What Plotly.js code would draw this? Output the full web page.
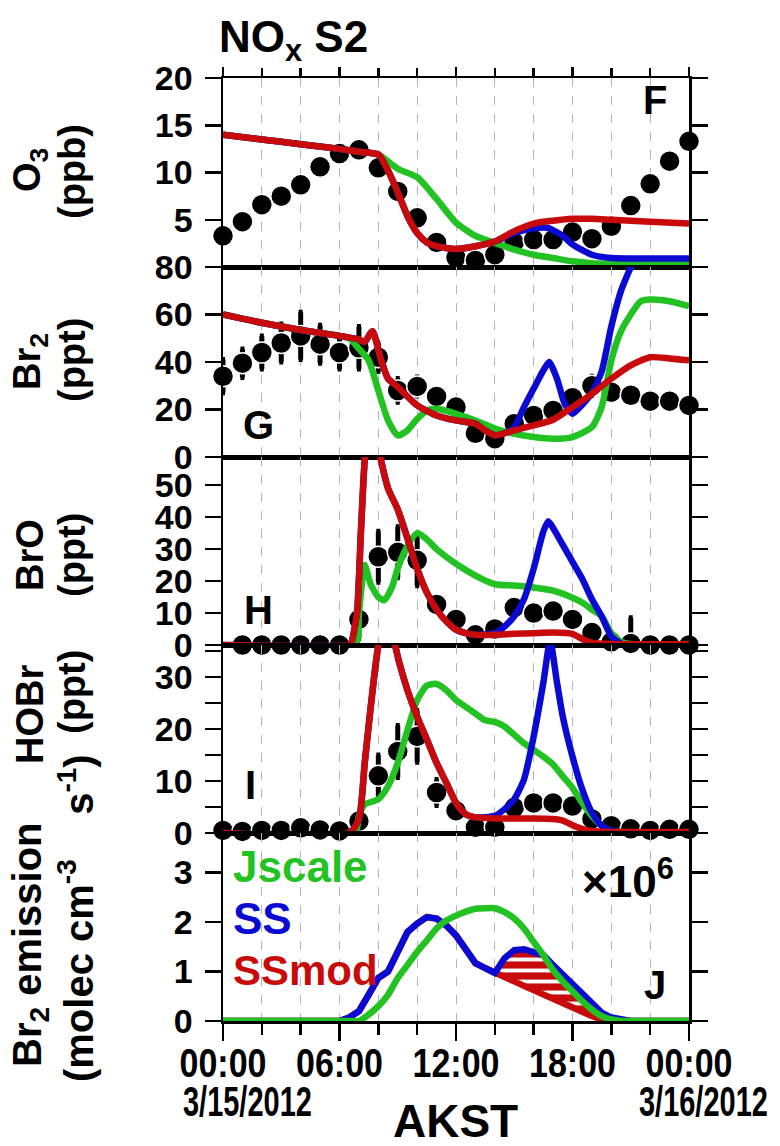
<!DOCTYPE html>
<html>
<head>
<meta charset="utf-8">
<script src="https://cdn.plot.ly/plotly-3.0.1.min.js"></script>
<style>html,body{margin:0;padding:0;background:#fff;}#chart{width:780px;height:1146px;}</style>
</head>
<body>
<div id="chart"></div>
<script>
// ---------- data ----------
const obsHours = [0,1,2,3,4,5,6,7,8,9,10,11,12,13,14,15,16,17,18,19,20,21,22,23,24];
const xTickVals = [0,6,12,18,24];
const xTickText = ["00:00","06:00","12:00","18:00","00:00"];

// Panel F: O3 (ppb)
const o3Obs = [3.3,4.8,6.6,7.5,8.7,10.6,12.0,12.4,10.5,8.0,5.2,2.6,1.0,0.7,1.3,2.6,2.9,2.9,3.7,3.0,4.3,6.5,8.8,11.2,13.3];
const o3JscaleT = [0,2,4,6,7,8,9,10,11,12,13,14,15,16,17,18,19,20,22,24];
const o3Jscale  = [14.0,13.5,13.0,12.5,12.2,11.9,10.4,9.5,7.2,4.7,3.3,2.55,1.85,1.3,0.95,0.6,0.4,0.35,0.35,0.35];
const o3SST = [0,2,4,6,7,8,8.5,9,9.5,10,10.5,11,12,13,14,15,16,16.7,17.5,18,19,20,22,24];
const o3SS  = [14.0,13.5,13.0,12.5,12.2,11.9,10.2,7.9,5.4,3.6,2.6,2.2,1.9,2.2,2.7,3.6,4.1,4.15,3.3,2.4,1.3,0.95,0.9,0.9];
const o3SSmodT = [0,2,4,6,7,8,8.5,9,9.5,10,10.5,11,12,13,14,15,16,17,18,19,20,22,24];
const o3SSmod  = [14.0,13.5,13.0,12.5,12.2,11.9,10.2,7.9,5.4,3.6,2.6,2.2,1.9,2.2,2.7,3.8,4.6,4.9,5.1,5.1,5.0,4.8,4.6];

// Panel G: Br2 (ppt)
const br2Obs = [34,39.5,44,48,51,47.5,44,46,42,28,29.7,25.5,21,10,7.7,14,17.5,19.6,25,30,27.3,26,23.5,23.5,21.7];
const br2Err = [7,6,7,8,10,8,7,9,6,5,4,3,3,2,2,2,2,2,3,4,3,2,2,2,2];
const br2JscaleT = [0,2,4,6,6.5,7,7.5,8,8.5,9,9.5,10,10.5,11,12,13,14,15,16,17,18,19,19.5,20,20.5,21,21.5,22,23,24];
const br2Jscale  = [60,56.5,53.5,51,50,45.6,40.7,28,15.4,9.1,11.2,16,19.6,20.3,18.2,15.4,12,9.8,8.4,7.7,8.4,12.6,21,40.7,53,60,65.5,66.3,65.6,63.5];
const br2SST = [0,2,4,6,7,7.3,7.7,8.1,8.5,9,10,11,12,13,13.5,14,14.5,15,15.5,16,16.5,16.8,17.2,17.6,18,18.5,19,19.5,20,20.5,21,21.5,22,24];
const br2SS  = [60,56.5,53.5,51,49.5,48.5,53,42,33,29.5,21.7,17.5,15.4,14,11.2,9.1,10,12.6,21,28.8,36.5,40,33,22.4,18.2,22,27,36,55,70,80,90,95,95];
const br2SSmodT = [0,2,4,6,7,7.3,7.7,8.1,8.5,9,10,11,12,13,13.5,14,15,16,17,18,19,20,21,22,23,24];
const br2SSmod  = [60,56.5,53.5,51,49.5,48.5,53,42,33,29.5,21.7,17.5,15.4,14,11.2,9.1,11.2,13.3,15.7,21,26.6,33,38.6,42,41.5,40.7];

// Panel H: BrO (ppt)
const broObs = [null,0,0,0,0,0,0,8,27.6,29,26.5,12.7,8,3.2,5,11.7,10,10.6,8,3.9,1,0.5,0,0,0];
const broErr = [0,0,0,0,0,0,0,6,8,8,8,2,2,1,1,2,2,1,1,1,1,8,0,0,0];
const broJscaleT = [0,6.8,7,7.3,7.6,8,8.3,8.7,9,9.5,10,10.5,11,12,13,14,15,16,17,18,18.5,19,19.5,20,20.5,21,24];
const broJscale  = [0,0,10,25,19,15,14,18,24,31,35,33,30,25.4,21.7,19,18.6,18,17,14.8,13.3,11.1,9,3.7,1,0.3,0.3];
const broSST = [0,6.5,6.6,6.9,7.1,7.3,7.6,7.9,8.1,8.5,9,9.5,10,10.5,11,11.5,12,12.5,13,14,14.5,15,15.5,16,16.5,16.75,17,17.5,18,18.5,19,19.5,20,20.5,21,24];
const broSS  = [0,0,0.5,10,35,58,75,70,59,49,42.4,33.4,23.9,16.4,11.1,7.4,4.8,3.7,3.2,3.7,5.8,9,14.3,23.9,35.5,38.7,36.6,31.3,26,20.7,14.3,9,2.7,0.5,0,0];
const broSSmodT = [0,6.5,6.6,6.9,7.1,7.3,7.6,7.9,8.1,8.5,9,9.5,10,10.5,11,11.5,12,12.5,13,14,15,16,17,18,18.5,19,20,24];
const broSSmod  = [0,0,0.5,10,35,58,75,70,59,49,42.4,33.4,23.9,16.4,11.1,7.4,4.8,3.7,3.2,3.2,3.5,3.7,3.9,3.5,1.9,0.7,0.3,0.2];

// Panel I: HOBr (ppt)
const hobrObs = [0.5,0.3,0.5,0.5,1.0,0.6,0.4,2.3,11,15.7,18.6,7.8,4.3,1.1,1.1,4.9,5.8,5.8,5.2,2.7,1.4,0.8,0.5,0.7,0.7];
const hobrErr = [0,0,0,0,0,0,0,1,4,5,5,2.5,1,1,1,1,1,1,1,1,1,0,0,0,0];
const hobrJscaleT = [0,6.8,7,7.3,8,8.5,9,9.5,10,10.5,11,11.5,12,12.5,13,13.5,14,14.5,15,15.5,16,16.5,17,17.5,18,18.5,19,19.5,20,24];
const hobrJscale  = [0,0,3.3,5.5,6.5,9,13.5,19.8,25.6,28.4,28.7,27.5,25.6,24.3,23,21.7,21.4,20.5,18.9,17.3,16,14.7,13.2,10.9,8.7,5.8,3.3,1.4,0.4,0.2];
const hobrSST = [0,6.5,7,7.3,7.6,8,8.4,8.8,9.1,9.5,10,10.5,11,11.5,12,12.5,13,14,14.5,15,15.5,16,16.5,16.85,17.2,17.5,18,18.5,19,19.5,20,21,24];
const hobrSS  = [0,0,2.7,13.5,24,36,41,37,32.5,27.5,22.4,18,13.5,9.7,5.8,3.6,3.0,3.3,4.6,6.5,10.3,18.6,29,37,29,22.4,14.7,8.4,3.9,1.4,0.4,0,0];
const hobrSSmodT = [0,6.5,7,7.3,7.6,8,8.4,8.8,9.1,9.5,10,10.5,11,11.5,12,12.5,13,14,15,16,17,17.5,18,18.5,19,20,24];
const hobrSSmod  = [0,0,2.7,13.5,24,36,41,37,32.5,27.5,22.4,18,13.5,9.7,5.8,3.6,3.0,2.8,2.8,2.8,2.7,2.4,1.5,0.8,0.4,0.2,0.2];

// Panel J: Br2 emission (x10^6 molec cm-3 s-1)
const emisT = [0,6,6.5,7,7.5,8,8.5,9,9.5,10,10.5,11,11.5,12,12.5,13,13.5,14,14.5,15,15.5,16,16.5,17,17.5,18,18.5,19,19.5,20,20.5,21,24];
const emisJscale = [0,0,0,0,0.13,0.3,0.53,0.87,1.13,1.4,1.63,1.87,2.03,2.13,2.21,2.27,2.28,2.28,2.2,2.07,1.87,1.6,1.33,1.03,0.8,0.6,0.4,0.23,0.1,0.03,0,0,0];
const emisSS     = [0,0,0.07,0.2,0.53,0.87,1.0,1.4,1.8,1.97,2.1,2.07,1.93,1.73,1.47,1.17,1.07,0.97,1.27,1.43,1.45,1.4,1.33,1.13,0.93,0.73,0.53,0.33,0.17,0.07,0.02,0,0];
const emisSSmod  = [0,0,0.07,0.2,0.53,0.87,1.0,1.4,1.8,1.97,2.1,2.07,1.93,1.73,1.47,1.17,1.07,0.97,0.89,0.8,0.71,0.62,0.54,0.45,0.37,0.28,0.19,0.1,0.03,0,0,0,0];

// ---------- styling ----------
const GREEN = '#22c222', BLUE = '#0a0ad2', RED = '#c80a0a';
const FONT = 'Liberation Sans, Arial, sans-serif';
const W = 780, H = 1146;
const L = 223, R = 689, T = 78, B = 1021;
const px2x = p => (p - L) / (R - L);
const py2y = p => (B - p) / (B - T);
const bounds = [78, 267, 457, 645, 833, 1021];

const traces = [];
function dots(y, err, k) {
  const t = {x: obsHours, y: y, type: 'scatter', mode: 'markers', xaxis: 'x' + (k === 1 ? '' : k), yaxis: 'y' + (k === 1 ? '' : k),
    marker: {color: '#000', size: 21, line: {color: '#fff', width: 1.5}}, cliponaxis: false, showlegend: false, hoverinfo: 'skip'};
  if (err) t.error_y = {type: 'data', array: err, visible: true, color: '#000', thickness: 5, width: 2};
  traces.push(t);
}
function line(x, y, color, k, extra) {
  const t = Object.assign({x: x, y: y, type: 'scatter', mode: 'lines', xaxis: 'x' + (k === 1 ? '' : k), yaxis: 'y' + (k === 1 ? '' : k),
    line: {color: color, width: 6.5, shape: 'spline', smoothing: 0.6}, showlegend: false, hoverinfo: 'skip'}, extra || {});
  traces.push(t);
}

dots(o3Obs, null, 1);
line(o3JscaleT, o3Jscale, GREEN, 1);
line(o3SST, o3SS, BLUE, 1);
line(o3SSmodT, o3SSmod, RED, 1);

dots(br2Obs, br2Err, 2);
line(br2JscaleT, br2Jscale, GREEN, 2);
line(br2SST, br2SS, BLUE, 2);
line(br2SSmodT, br2SSmod, RED, 2);

dots(broObs, broErr, 3);
line(broJscaleT, broJscale, GREEN, 3);
line(broSST, broSS, BLUE, 3);
line(broSSmodT, broSSmod, RED, 3);

dots(hobrObs, hobrErr, 4);
line(hobrJscaleT, hobrJscale, GREEN, 4);
line(hobrSST, hobrSS, BLUE, 4);
line(hobrSSmodT, hobrSSmod, RED, 4);

line(emisT, emisSSmod, RED, 5, {line: {color: RED, width: 6.5, shape: 'linear'}});
line(emisT, emisSS, BLUE, 5, {line: {color: BLUE, width: 6.5, shape: 'linear'}, fill: 'tonexty', fillcolor: RED,
  fillpattern: {shape: '-', fgcolor: '#ffffff', bgcolor: RED, size: 11, solidity: 0.35}});
line(emisT, emisJscale, GREEN, 5, {line: {color: GREEN, width: 6.5, shape: 'spline', smoothing: 0.6}});

const tickFont = {family: FONT, size: 34, color: '#000', weight: 'bold'};
const gridCommon = {showgrid: true, gridcolor: '#b4b4b4', griddash: 'dash', gridwidth: 1};
function xAxis(k) {
  const a = Object.assign({domain: [0, 1], range: [0, 24], anchor: 'y' + (k === 1 ? '' : k), showline: true, linecolor: '#000', linewidth: 2.5,
    mirror: true, zeroline: false, fixedrange: true}, gridCommon);
  if (k === 1) {
    Object.assign(a, {side: 'top', tickmode: 'array', tickvals: xTickVals, ticks: 'outside', ticklen: 9, tickwidth: 2.5, tickcolor: '#000', showticklabels: false,
      minor: {tickmode: 'linear', tick0: 0, dtick: 2, ticks: 'outside', ticklen: 8, tickwidth: 2.5, tickcolor: '#000', showgrid: true, gridcolor: '#b4b4b4', griddash: 'dash', gridwidth: 1}});
  } else if (k === 5) {
    Object.assign(a, {side: 'bottom', tickmode: 'array', tickvals: xTickVals, ticktext: xTickText, ticks: 'outside', ticklen: 17, tickwidth: 2.5, tickcolor: '#000',
      tickfont: {family: FONT, size: 40, color: '#000', weight: 'bold'}, ticklabelstandoff: 0,
      minor: {tickmode: 'linear', tick0: 0, dtick: 2, ticks: 'outside', ticklen: 11, tickwidth: 2.5, tickcolor: '#000', showgrid: true, gridcolor: '#b4b4b4', griddash: 'dash', gridwidth: 1}});
  } else {
    Object.assign(a, {tickmode: 'linear', tick0: 0, dtick: 2, ticks: '', showticklabels: false});
  }
  return a;
}
function yAxis(k, range, tickvals, minorVals) {
  const a = {domain: [py2y(bounds[k]), py2y(bounds[k - 1])], range: range, anchor: 'x' + (k === 1 ? '' : k), tickmode: 'array', tickvals: tickvals,
    ticks: 'outside', ticklen: 16, tickwidth: 2.5, tickcolor: '#000', showline: true, linecolor: '#000', linewidth: 2.5, mirror: 'ticks',
    showgrid: false, zeroline: false, tickfont: tickFont, ticklabelstandoff: 5, fixedrange: true};
  if (minorVals) a.minor = {tickmode: 'array', tickvals: minorVals, ticks: 'outside', ticklen: 16, tickwidth: 2.5, tickcolor: '#000', showgrid: false};
  return a;
}

const ann = [];
function txt(text, px, py, opts) {
  ann.push(Object.assign({text: text, x: px2x(px), y: py2y(py), xref: 'paper', yref: 'paper', showarrow: false,
    xanchor: 'center', yanchor: 'middle', font: {family: FONT, size: 38, color: '#000', weight: 'bold'}}, opts || {}));
}
const big = (c, s) => ({family: FONT, size: s, color: c, weight: 'bold'});
const NB = '\u00a0';
// title
txt('NO<sub>x</sub> S2', 217, 40, {xanchor: 'left', font: big('#000', 44)});
// y titles
txt('O<sub>3</sub>', 30, 170, {textangle: -90});
txt('(ppb)', 72, 172, {textangle: -90});
txt('Br<sub>2</sub>', 30, 362, {textangle: -90});
txt('(ppt)', 72, 360, {textangle: -90});
txt('BrO', 30, 555, {textangle: -90});
txt('(ppt)', 72, 555, {textangle: -90});
txt('HOBr', 30, 715, {textangle: -90});
txt('(ppt)', 72, 692, {textangle: -90});
txt('Br<sub>2</sub> emission', 30, 945, {textangle: -90, font: big('#000', 40)});
txt('(molec cm<sup>-3</sup>' + NB + NB + NB + NB + 's<sup>-1</sup>)', 76, 918, {textangle: -90, font: big('#000', 40)});
// panel letters
txt('F', 655, 100, {font: big('#000', 40)});
txt('G', 258, 425, {font: big('#000', 40)});
txt('H', 258, 610, {font: big('#000', 40)});
txt('I', 250, 785, {font: big('#000', 40)});
txt('J', 655, 985, {font: big('#000', 40)});
// legend text
txt('Jscale', 231, 866, {xanchor: 'left', font: big(GREEN, 44)});
txt('SS', 231, 918, {xanchor: 'left', font: big(BLUE, 44)});
txt('SSmod', 231, 970, {xanchor: 'left', font: big(RED, 42)});
txt('\u00d710<sup>6</sup>', 628, 878, {font: big('#000', 44)});
// x labels
txt('3/15/2012', 247, 1101, {font: big('#000', 42)});
txt('3/16/2012', 703, 1101, {font: big('#000', 42)});
txt('AKST', 455, 1121, {font: big('#000', 46)});

const layout = {
  width: W, height: H, margin: {l: L, r: W - R, t: T, b: H - B, pad: 0},
  paper_bgcolor: '#fff', plot_bgcolor: 'rgba(0,0,0,0)', showlegend: false,
  xaxis: xAxis(1), xaxis2: xAxis(2), xaxis3: xAxis(3), xaxis4: xAxis(4), xaxis5: xAxis(5),
  yaxis: yAxis(1, [0, 20], [5, 10, 15, 20]),
  yaxis2: yAxis(2, [0, 80], [0, 20, 40, 60, 80]),
  yaxis3: yAxis(3, [0, 58.8], [0, 10, 20, 30, 40, 50]),
  yaxis4: yAxis(4, [0, 36.2], [0, 10, 20, 30], [5, 15, 25, 35]),
  yaxis5: yAxis(5, [0, 3.8], [0, 1, 2, 3]),
  annotations: ann
};
Plotly.newPlot('chart', traces, layout, {staticPlot: true}).then(gd => {
  // condensed look of the time-axis labels, as in the reference (keeps Plotly's own placement)
  gd.querySelectorAll('.x5tick text').forEach(t => {
    const orig = t.getAttribute('transform') || '';
    const bb = t.getBBox();
    const cx = bb.x + bb.width / 2, cy = bb.y + bb.height / 2;
    t.setAttribute('transform', orig + ' translate(' + cx + ',' + (cy - 11) + ') scale(0.85,1) translate(' + (-cx) + ',' + (-cy) + ')');
  });
  gd.querySelectorAll('.annotation-text').forEach(t => {
    if (t.textContent.indexOf('/2012') >= 0) {
      t.style.transformBox = 'fill-box'; t.style.transformOrigin = 'center'; t.style.transform = 'scaleX(0.69)';
    }
  });
});
</script>
</body>
</html>
